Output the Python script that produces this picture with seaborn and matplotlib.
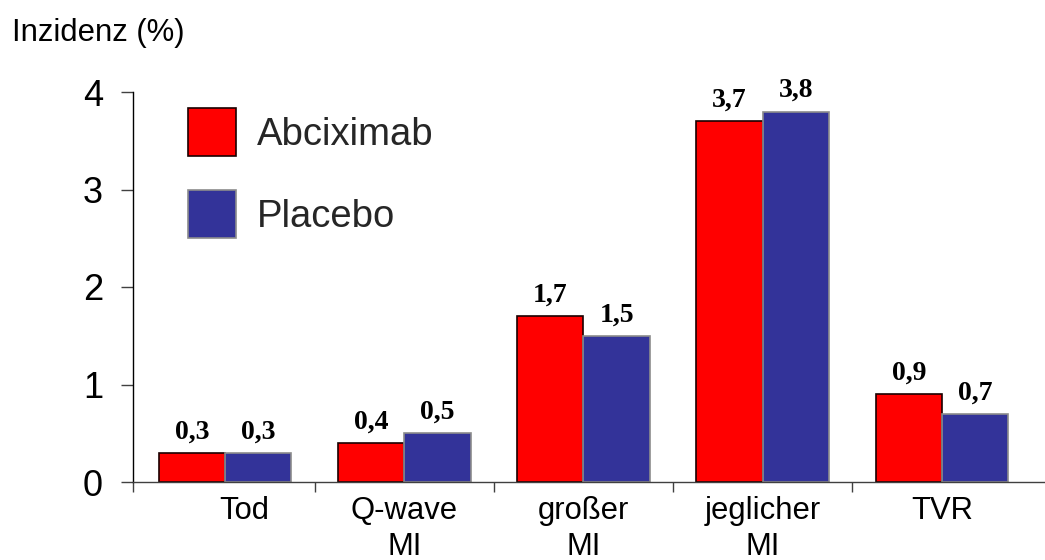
import matplotlib
matplotlib.use("Agg")
import matplotlib.pyplot as plt
import matplotlib.transforms as mtransforms
from matplotlib.patches import Patch
from matplotlib.ticker import FixedLocator
import pandas as pd
import seaborn as sns

# Endpunkte und Inzidenzen (%)
categories = ["Tod", "Q-wave\nMI", "großer\nMI", "jeglicher\nMI", "TVR"]
groups = ["Abciximab", "Placebo"]
abciximab = [0.3, 0.4, 1.7, 3.7, 0.9]
placebo = [0.3, 0.5, 1.5, 3.8, 0.7]
y_ticks = [0, 1, 2, 3, 4]
y_label = "Inzidenz (%)"

colors = {"Abciximab": "#FF0000", "Placebo": "#333399"}
edges = {"Abciximab": "#1a0000", "Placebo": "#8c8c8c"}

df = pd.DataFrame({
    "Kategorie": categories * 2,
    "Gruppe": [groups[0]] * len(categories) + [groups[1]] * len(categories),
    "Inzidenz": abciximab + placebo,
})

sns.set_theme(style="white")
plt.rcParams["font.family"] = ["Liberation Sans", "DejaVu Sans"]

W, H = 1045, 560
fig = plt.figure(figsize=(W / 100, H / 100), dpi=100)
ax = fig.add_axes([133 / W, 78 / H, (W - 133) / W, 390 / H])

sns.barplot(data=df, x="Kategorie", y="Inzidenz", hue="Gruppe",
            order=categories, hue_order=groups, palette=colors,
            saturation=1, width=0.74, errorbar=None, legend=False,
            linewidth=1.2, ax=ax)

for cont, g in zip(ax.containers, groups):
    for bar in cont:
        bar.set_edgecolor(edges[g])
    vals = abciximab if g == groups[0] else placebo
    ax.bar_label(cont, labels=[f"{v:.1f}".replace(".", ",") for v in vals],
                 padding=6, fontsize=20, fontweight="bold",
                 family="Liberation Serif", color="black")

ax.set_xlim(-0.513, 4.575)
ax.set_ylim(0, 4)
ax.set_yticks(y_ticks)
ax.set_yticklabels([str(t) for t in y_ticks])
ax.set_xlabel("")
ax.set_ylabel("")

for s in ("top", "right"):
    ax.spines[s].set_visible(False)
ax.spines["left"].set_color("black")
ax.spines["left"].set_linewidth(1.0)
ax.spines["bottom"].set_color("#404040")
ax.spines["bottom"].set_linewidth(1.0)

ax.tick_params(axis="y", which="major", direction="out", left=True,
               length=8.6, width=1.0, color="#404040", pad=13,
               labelsize=26, labelcolor="black")
ax.xaxis.set_minor_locator(FixedLocator([-0.513, 0.5, 1.5, 2.5, 3.5]))
ax.tick_params(axis="x", which="minor", direction="out", bottom=True,
               length=7, width=1.0, color="#404040")
ax.tick_params(axis="x", which="major", length=0, pad=10,
               labelsize=22.3, labelcolor="black")

labels = ax.get_xticklabels()
for lbl in labels:
    lbl.set_linespacing(1.25)
labels[0].set_transform(labels[0].get_transform()
                        + mtransforms.ScaledTranslation(19 / 100, 0, fig.dpi_scale_trans))

handles = [Patch(facecolor=colors[g], edgecolor=edges[g], linewidth=1.2, label=g)
           for g in groups]
ax.legend(handles=handles, loc="upper left",
          bbox_to_anchor=(188 / W, 1 - 108 / H), bbox_transform=fig.transFigure,
          frameon=False, fontsize=27.5, handlelength=1.26, handleheight=1.56,
          handletextpad=0.55, labelspacing=0.89, borderpad=0, borderaxespad=0)

fig.text(12 / W, 1 - 33 / H, y_label, fontsize=22.3, ha="left", va="center",
         color="black")

fig.savefig("out.png", dpi=100)
